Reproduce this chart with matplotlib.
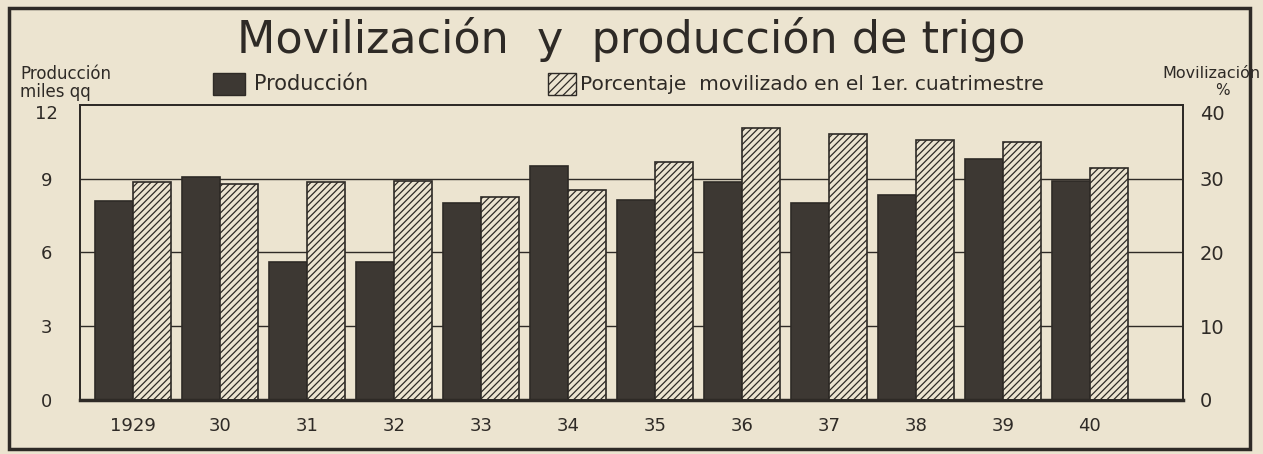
import numpy as np
import matplotlib.pyplot as plt
from matplotlib.patches import Rectangle

plt.rcParams['font.family'] = ['DejaVu Sans']
plt.rcParams['hatch.linewidth'] = 0.9

years = ['1929', '30', '31', '32', '33', '34', '35', '36', '37', '38', '39', '40']
produccion = [8.1, 9.05, 5.6, 5.6, 8.0, 9.5, 8.15, 8.85, 8.0, 8.35, 9.8, 8.9]
movilizado = [29.6, 29.3, 29.6, 29.7, 27.5, 28.5, 32.3, 36.8, 36.0, 35.2, 34.9, 31.4]
left_ticks = [0, 3, 6, 9, 12]
right_ticks = [0, 10, 20, 30, 40]

bg = '#ece4d0'
ink = '#2e2a26'

fig = plt.figure(figsize=(12.63, 4.54), dpi=100, facecolor=bg)
ax = fig.add_axes([0.0633, 0.119, 0.8733, 0.65])
ax.set_facecolor(bg)

x = np.arange(len(years))
w = 0.435
for g in [3, 6, 9]:
    ax.axhline(g, color=ink, lw=1.0, zorder=0)
ax.bar(x - w / 2, produccion, w, color='#3d3833', edgecolor=ink, lw=1.2, zorder=2)

ax2 = ax.twinx()
ax2.bar(x + w / 2, movilizado, w, color=bg, edgecolor=ink, hatch='/////', lw=1.2, zorder=2)

ax.set_xlim(-0.61, 12.07)
ax.set_ylim(0, 12)
ax2.set_ylim(0, 40)
ax.set_xticks(x, years)
ax.set_yticks(left_ticks)
ax2.set_yticks(right_ticks)
ax.tick_params(axis='both', length=0, labelsize=13, colors=ink)
ax.tick_params(axis='y', pad=24)
ax.tick_params(axis='x', pad=12)
for lbl in ax.get_yticklabels():
    lbl.set_horizontalalignment('center')
ax.get_yticklabels()[-1].set_verticalalignment('top')
ax2.tick_params(axis='y', length=0, labelsize=14, colors=ink, pad=12)
ax2.get_yticklabels()[-1].set_verticalalignment('top')
for a in (ax, ax2):
    for s in a.spines.values():
        s.set_color(ink)
        s.set_linewidth(1.3)
ax.spines['bottom'].set_linewidth(2.5)

fig.text(0.5, 0.912, 'Movilización  y  producción de trigo', ha='center', va='center',
         fontsize=32, color=ink)
fig.text(0.016, 0.838, 'Producción', fontsize=12, color=ink, va='center')
fig.text(0.016, 0.798, 'miles qq', fontsize=12, color=ink, va='center')
fig.text(0.998, 0.838, 'Movilización', fontsize=11.5, color=ink, va='center', ha='right')
fig.text(0.968, 0.8, '%', fontsize=11, color=ink, va='center', ha='center')

fig.patches.append(Rectangle((0.169, 0.79), 0.025, 0.05, transform=fig.transFigure,
                             facecolor='#3d3833', edgecolor=ink, lw=1))
fig.text(0.201, 0.814, 'Producción', fontsize=15, color=ink, va='center')
fig.patches.append(Rectangle((0.434, 0.79), 0.022, 0.05, transform=fig.transFigure,
                             facecolor=bg, edgecolor=ink, hatch='////', lw=1))
fig.text(0.459, 0.814, 'Porcentaje  movilizado en el 1er. cuatrimestre', fontsize=14.5,
         color=ink, va='center')

fig.patches.append(Rectangle((0.007, 0.01), 0.983, 0.972, transform=fig.transFigure,
                             fill=False, edgecolor=ink, lw=2.5))

fig.savefig('out.png', dpi=100, facecolor=bg)
